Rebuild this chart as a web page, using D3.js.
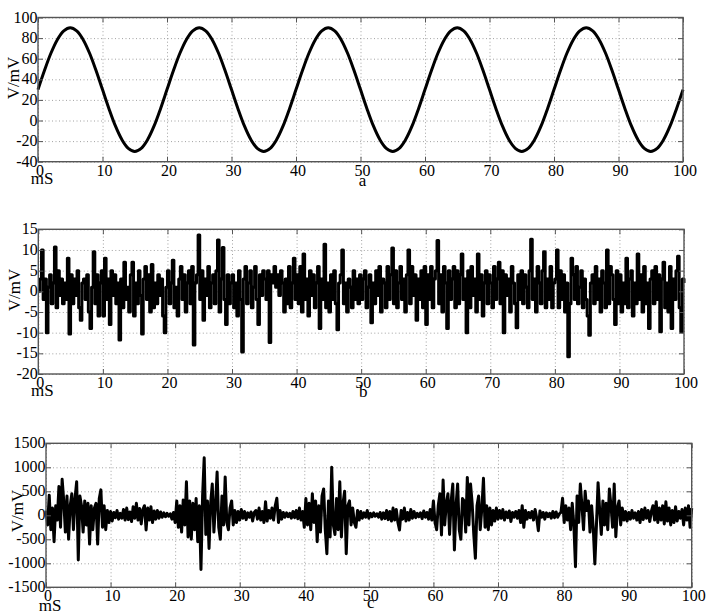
<!DOCTYPE html>
<html>
<head>
<meta charset="utf-8">
<script src="https://cdn.jsdelivr.net/npm/d3@7/dist/d3.min.js"></script>
<style>
body{margin:0;background:#fff}
svg{display:block}
</style>
</head>
<body>
<svg id="chart" width="708" height="614"></svg>
<script>
// tick labels
var xTicks = [0,10,20,30,40,50,60,70,80,90,100];
var yTicksA = [-40,-20,0,20,40,60,80,100];
var yTicksB = [-20,-15,-10,-5,0,5,10,15];
var yTicksC = [-1500,-1000,-500,0,500,1000,1500];

// a: clean signal, one sample per mS
var sineA = [
 30,48.5,65.3,78.5,87,90,87,78.5,65.3,48.5,30,11.5,-5.3,-18.5,-27,-30,-27,-18.5,-5.3,11.5,
 30,48.5,65.3,78.5,87,90,87,78.5,65.3,48.5,30,11.5,-5.3,-18.5,-27,-30,-27,-18.5,-5.3,11.5,
 30,48.5,65.3,78.5,87,90,87,78.5,65.3,48.5,30,11.5,-5.3,-18.5,-27,-30,-27,-18.5,-5.3,11.5,
 30,48.5,65.3,78.5,87,90,87,78.5,65.3,48.5,30,11.5,-5.3,-18.5,-27,-30,-27,-18.5,-5.3,11.5,
 30,48.5,65.3,78.5,87,90,87,78.5,65.3,48.5,30,11.5,-5.3,-18.5,-27,-30,-27,-18.5,-5.3,11.5,
 30
];

// b: noise, one sample per 0.25 mS
var noiseB = [
 0,3,10,-2,3,-10,1,4,-3,2,10.7,-4,5,-1,3,-3,2,-2,8,-10.3,
 4,-3,3,-1,5,-4,-7,2,3,-2,4,-5,-9,1,9.6,-3,4,-6,2,5,
 -6,8,-2,3,-8,5,-1,4,-3,2,-11.8,3,-4,7,-2,1,-5,4,7,-6,
 2,-3,5,-1,-10.3,3,6,-2,4,-5,6.5,-4,2,-3,4,-1,3,-6,-10,1,
 5,-3,2,7.5,-4,1,-6,3,6,-2,4,-5,2,5,-3,6,-13,2,4,13.6,
 -2,5,-7,3,-1,6,-4,2,4,-3,5,12.4,-5,3,10.6,-2,-8,4,-3,2,
 4,-4,2,-6,5,-2,-14.7,3,6,-3,2,5,-4,1,6,-2,-8,4,-1,5,
 3,-2,5,-12.4,4,2,6,1,4,-1,5,2,-5,3,-3,6,-4,2,8,-2,
 4,-3,6,-5,9,-2,3,-6,5,-1,4,-4,2,6,-9,3,-2,11.4,-4,2,
 -5,4,-2,5,-3,-9.3,2,4,10,-3,2,-5,3,1,-4,5,-2,3,-3,4,
 -2,3,5,-4,1,4,-7.6,2,-3,5,-1,6,-5,3,2,-4,6,-2,4,10.5,
 -3,5,-4,2,6,-2,3,-5,4,10,-3,6,-1,4,-7,3,-2,5,-4,6,
 -8,4,-2,6,-4,3,5,12.3,-3,4,-5,6,2,-9,5,-2,3,6,-4,5,
 -3,4,9,-2,3,-10,5,-4,6,-1,3,-5,9,-2,4,-6,2,5,-3,4,
 2,-4,6,-2,3,7,-3,5,-10,4,-1,3,-5,6,2,-3,-8.8,4,-2,5,
 -3,4,1,-4,5,12.6,-2,3,-5,6,2,-3,5,9.6,-4,3,-2,6,-4,2,
 3,10,-4,5,-2,4,-5,2,-15.8,-3,8,4,-2,6,-3,1,5,-4,3,-2,
 -6,-10.6,2,4,-3,6,-2,3,-5,5,2,-4,10,-3,6,4,-2,-8,5,-3,
 4,-5,2,-3,8,-4,3,5,-6,2,-3,9,-2,4,-5,6,-3,2,-9,3,
 5,-3,6,-2,4,-9.8,3,7,-4,2,-5,6,-9,3,-2,5,8.5,-4,-9.8,3,
 2
];

// c: bursts, one sample per 0.25 mS
var noiseC = [
 100,-200,420,-300,150,-550,200,-100,600,-250,750,300,-350,400,-500,200,450,-300,350,700,
 -930,400,200,-350,300,-200,250,-600,200,-300,150,250,-600,350,530,-250,200,-300,100,-150,
 80,-120,60,-50,100,-80,40,-60,120,-100,150,-90,70,-130,180,-60,250,-100,140,-180,
 120,200,-306,150,-100,180,-150,90,-80,100,-60,70,-40,50,-30,40,-20,30,-80,60,
 -150,300,-250,200,-350,320,-200,700,-450,300,-500,250,-300,350,-550,200,-1130,400,1200,-400,
 300,-690,250,650,-350,200,900,-250,-500,400,-200,800,-150,-300,150,300,-200,100,-150,80,
 -100,120,-60,80,-90,50,-40,70,-120,60,100,-80,150,-100,80,-150,283,-120,100,-60,
 150,-100,200,354,-150,100,-80,60,-40,50,-30,40,-60,80,-50,100,-70,150,-100,80,
 -250,350,-200,250,-300,450,-150,300,-550,200,-350,400,550,-300,-800,300,-450,1000,-200,-400,
 350,-300,700,-450,250,500,-800,200,300,-200,150,-150,-250,100,-100,80,-60,50,-40,100,
 -60,40,-30,50,-20,30,-40,60,-80,50,-70,100,-90,80,-120,150,-100,120,-150,-306,
 100,-80,150,-120,60,-100,120,-60,80,-50,40,-30,50,-70,90,-40,60,-80,120,-100,
 300,-150,-300,200,450,-410,735,-200,250,450,-400,300,650,-723,200,650,-300,-500,350,300,
 -350,790,-200,650,250,-400,-896,200,400,-300,150,770,-250,200,-300,150,-200,100,-120,150,
 -80,100,-60,120,-100,70,-50,90,-130,60,-40,80,-60,100,-150,200,-250,100,-80,60,
 -50,80,-100,120,-60,-320,90,-40,60,-80,50,-30,40,-60,80,-50,70,-40,30,60,
 354,-150,200,-100,150,-300,250,-200,-1070,400,-150,652,200,-300,500,100,300,-350,200,-250,
 -1015,-200,680,100,-400,300,-200,250,-300,550,200,-250,650,-445,150,300,-200,150,-100,80,
 -120,60,-80,100,-60,50,-100,80,-150,120,-90,150,-60,100,-130,80,200,-100,283,-150,
 150,-100,200,-180,280,-120,150,-200,100,-150,180,-120,80,-60,120,-200,150,-100,200,-250,
 150
];

var FONT = "Liberation Serif";

var panels = [
  {vals: sineA, dt: 1, yDomain: [-40,100], yTicks: yTicksA, curve: d3.curveCatmullRom,
   left: 38, right: 683, top: 17.5, bottom: 161.7, tag: "a", tagDy: 19, msDy: 17,
   ylab: [13.5, 78], width: 3},
  {vals: noiseB, dt: 0.25, yDomain: [-20,15], yTicks: yTicksB, curve: d3.curveStepAfter,
   left: 38.3, right: 684, top: 229.3, bottom: 374, tag: "b", tagDy: 18, msDy: 17,
   ylab: [15, 290], width: 3},
  {vals: noiseC, dt: 0.25, yDomain: [-1500,1500], yTicks: yTicksC, curve: d3.curveLinear,
   left: 46, right: 691.7, top: 443.3, bottom: 587.3, tag: "c", tagDy: 16, msDy: 19,
   ylab: [17.5, 511], width: 3}
];

var svg = d3.select("#chart").attr("font-family", FONT);
svg.append("rect").attr("width", 708).attr("height", 614).attr("fill", "#fff");

panels.forEach(function(p){
  var x = d3.scaleLinear().domain([0,100]).range([p.left, p.right]);
  var y = d3.scaleLinear().domain(p.yDomain).range([p.bottom, p.top]);
  var w = p.right - p.left, h = p.bottom - p.top;
  var g = svg.append("g");

  // dotted grid
  g.append("g").attr("transform", "translate(0," + p.bottom + ")")
    .call(d3.axisBottom(x).tickValues(xTicks).tickSize(-h).tickFormat(""))
    .call(function(s){ s.select(".domain").remove(); })
    .selectAll("line").attr("stroke", "#8a8a8a").attr("stroke-width", 0.8).attr("stroke-dasharray", "1,2.5");
  g.append("g").attr("transform", "translate(" + p.left + ",0)")
    .call(d3.axisLeft(y).tickValues(p.yTicks).tickSize(-w).tickFormat(""))
    .call(function(s){ s.select(".domain").remove(); })
    .selectAll("line").attr("stroke", "#8a8a8a").attr("stroke-width", 0.8).attr("stroke-dasharray", "1,2.5");

  // signal
  var line = d3.line()
    .x(function(d, i){ return x(i * p.dt); })
    .y(function(d){ return y(d); })
    .curve(p.curve);
  g.append("path").datum(p.vals)
    .attr("d", line)
    .attr("fill", "none")
    .attr("stroke", "#000")
    .attr("stroke-width", p.width)
    .attr("stroke-linejoin", "round");

  // inward ticks on all four sides
  var tl = 5;
  var axes = [
    [d3.axisBottom(x).tickValues(xTicks), "translate(0," + p.bottom + ")"],
    [d3.axisTop(x).tickValues(xTicks), "translate(0," + p.top + ")"],
    [d3.axisLeft(y).tickValues(p.yTicks), "translate(" + p.left + ",0)"],
    [d3.axisRight(y).tickValues(p.yTicks), "translate(" + p.right + ",0)"]
  ];
  axes.forEach(function(a){
    g.append("g").attr("transform", a[1])
      .call(a[0].tickSize(-tl).tickFormat(""))
      .call(function(s){ s.select(".domain").remove(); })
      .selectAll("line").attr("stroke", "#555").attr("stroke-width", 1);
  });

  // frame
  g.append("rect")
    .attr("x", p.left).attr("y", p.top)
    .attr("width", w).attr("height", h)
    .attr("fill", "none").attr("stroke", "#555").attr("stroke-width", 1.4);

  // tick labels
  g.selectAll(".xl").data(xTicks).enter().append("text")
    .attr("x", function(d){ return x(d) + 2; })
    .attr("y", p.bottom + 14)
    .attr("text-anchor", "middle")
    .attr("font-family", FONT)
    .attr("font-size", 16)
    .text(function(d){ return d; });
  g.selectAll(".yl").data(p.yTicks).enter().append("text")
    .attr("x", p.left - 0.5)
    .attr("y", function(d){ return y(d) + 5; })
    .attr("text-anchor", "end")
    .attr("font-family", FONT)
    .attr("font-size", 16)
    .text(function(d){ return d; });

  // axis names
  g.append("text")
    .attr("x", p.left + 4).attr("y", p.bottom + p.msDy + 5)
    .attr("text-anchor", "middle").attr("font-size", 17)
    .attr("font-family", FONT)
    .text("mS");
  g.append("text")
    .attr("x", x(50) + 2).attr("y", p.bottom + p.tagDy + 5)
    .attr("text-anchor", "middle").attr("font-size", 17)
    .attr("font-family", FONT)
    .text(p.tag);
  g.append("text")
    .attr("transform", "translate(" + (p.ylab[0] + 5) + "," + p.ylab[1] + ") rotate(-90)")
    .attr("text-anchor", "middle").attr("font-size", 17)
    .attr("font-family", FONT)
    .text("V/mV");
});
</script>
</body>
</html>
